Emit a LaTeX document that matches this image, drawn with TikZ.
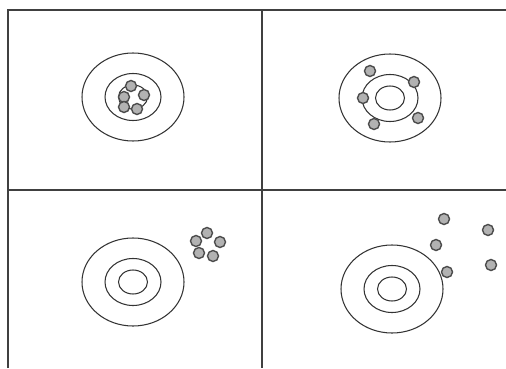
\documentclass[tikz,border=0pt]{standalone}
\usepackage{tikz}
\usetikzlibrary{positioning}

\begin{document}
\begin{tikzpicture}[x=0.02cm, y=-0.02cm,
        frame/.style={draw=black!75, line width=0.8pt},
        ring/.style={draw=black!80, line width=0.6pt},
        shot/.style={circle, draw=black!70, fill=gray!60, line width=0.8pt, minimum size=0.22cm, inner sep=0pt}
    ]
    \useasboundingbox (0,0) rectangle (506,368);

    % grid of the four panels
    \coordinate (tl) at (8,10);
    \coordinate (tr) at (506,10);
    \coordinate (bl) at (8,368);
    \coordinate (mt) at (262,10);
    \coordinate (mb) at (262,368);
    \coordinate (ml) at (8,190);
    \coordinate (mr) at (506,190);
    \draw[frame] (bl) -- (tl) -- (tr);
    \draw[frame] (mt) -- (mb);
    \draw[frame] (ml) -- (mr);

    % targets
    \foreach \cx/\cy in {133/97, 390/98, 133/282, 392/289} {
        \draw[ring] (\cx,\cy) ellipse [x radius=51, y radius=44];
        \draw[ring] (\cx,\cy) ellipse [x radius=28, y radius=23.5];
        \draw[ring] (\cx,\cy) ellipse [x radius=14.5, y radius=12];
    }

    % accurate and precise
    \node[shot] (a1) at (131,86) {};
    \node[shot] (a2) at (144,95) {};
    \node[shot] (a3) at (124,97) {};
    \node[shot] (a4) at (124,107) {};
    \node[shot] (a5) at (137,109) {};

    % accurate, not precise
    \node[shot] (b1) at (370,71) {};
    \node[shot] (b2) at (414,82) {};
    \node[shot] (b3) at (363,98) {};
    \node[shot] (b4) at (418,118) {};
    \node[shot] (b5) at (374,124) {};

    % precise, not accurate
    \node[shot] (c1) at (207,233) {};
    \node[shot] (c2) at (196,241) {};
    \node[shot] (c3) at (220,242) {};
    \node[shot] (c4) at (199,253) {};
    \node[shot] (c5) at (213,256) {};

    % neither
    \node[shot] (d1) at (444,219) {};
    \node[shot] (d2) at (488,230) {};
    \node[shot] (d3) at (436,245) {};
    \node[shot] (d4) at (447,272) {};
    \node[shot] (d5) at (491,265) {};
\end{tikzpicture}
\end{document}
